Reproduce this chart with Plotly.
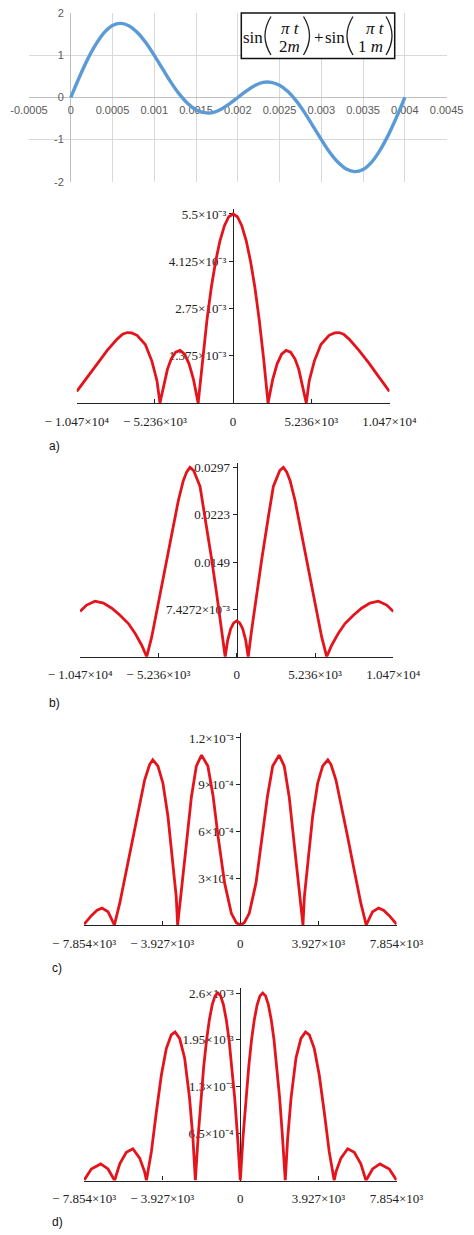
import plotly.graph_objects as go

W, H = 474, 1235

def px(p):
    return p / W

def py(p):
    return 1 - p / H

# ---------------- data ----------------
# top panel: sin(pi t / 2m) + sin(pi t / 1m)
sig_t = [0, 0.0001, 0.0002, 0.0003, 0.0004, 0.0005, 0.0006, 0.0007, 0.0008, 0.0009,
         0.0010, 0.0011, 0.0012, 0.0013, 0.0014, 0.0015, 0.0016, 0.0017, 0.0018, 0.0019,
         0.0020, 0.0021, 0.0022, 0.0023, 0.0024, 0.0025, 0.0026, 0.0027, 0.0028, 0.0029,
         0.0030, 0.0031, 0.0032, 0.0033, 0.0034, 0.0035, 0.0036, 0.0037, 0.0038, 0.0039, 0.0040]
sig_v = [0.0, 0.47, 0.90, 1.26, 1.54, 1.71, 1.76, 1.70, 1.54, 1.30,
         1.0, 0.68, 0.36, 0.08, -0.14, -0.29, -0.36, -0.36, -0.28, -0.15,
         0.0, 0.15, 0.28, 0.36, 0.36, 0.29, 0.14, -0.08, -0.36, -0.68,
         -1.0, -1.30, -1.54, -1.70, -1.76, -1.71, -1.54, -1.26, -0.90, -0.47, 0.0]
top_xticks = [-0.0005, 0, 0.0005, 0.001, 0.0015, 0.002, 0.0025, 0.003, 0.0035, 0.004, 0.0045]
top_xtext = ["-0.0005", "0", "0.0005", "0.001", "0.0015", "0.002", "0.0025", "0.003", "0.0035", "0.004", "0.0045"]
top_yticks = [-2, -1, 0, 1, 2]
top_ytext = ["-2", "-1", "0", "1", "2"]

# panel a (magnitude in units of 1e-3)
a_w = [-10470, -9760, -9100, -8430, -7770, -7400, -7100, -6800, -6430, -5880, -5440, -5100, -4900,
       -4650, -4400, -4150, -3850, -3550, -3250, -2950, -2650, -2340,
       -2050, -1750, -1460, -1170, -880, -580, -290, 0,
       290, 580, 880, 1170, 1460, 1750, 2050,
       2340, 2650, 2950, 3250, 3550, 3850, 4150, 4400, 4650,
       4900, 5100, 5440, 5880, 6430, 6800, 7100, 7400, 7770, 8430, 9100, 9760, 10470]
a_m = [0.34, 0.76, 1.16, 1.53, 1.86, 2.00, 2.05, 2.04, 1.97, 1.70, 1.22, 0.65, 0.0,
       0.50, 0.98, 1.28, 1.48, 1.53, 1.42, 1.14, 0.68, 0.0,
       1.27, 2.42, 3.36, 4.12, 4.72, 5.16, 5.42, 5.5,
       5.42, 5.16, 4.72, 4.12, 3.36, 2.42, 1.27,
       0.0, 0.68, 1.14, 1.42, 1.53, 1.48, 1.28, 0.98, 0.50,
       0.0, 0.65, 1.22, 1.70, 1.97, 2.04, 2.05, 2.00, 1.86, 1.53, 1.16, 0.76, 0.34]
a_xticks = [-10470, -5236, 0, 5236, 10470]
a_xtext = ["\u2212 1.047\u00d710\u2074", "\u2212 5.236\u00d710\u00b3", "0",
           "5.236\u00d710\u00b3", "1.047\u00d710\u2074"]
a_yticks = [1.375e-3, 2.75e-3, 4.125e-3, 5.5e-3]
a_ytext = ["1.375\u00d710\u207b\u00b3", "2.75\u00d710\u207b\u00b3",
           "4.125\u00d710\u207b\u00b3", "5.5\u00d710\u207b\u00b3"]

# panel b (units of 1e-3)
b_w = [-10470, -10030, -9470, -8910, -8350, -7800, -7240, -6800, -6350, -6016,
       -5680, -5240, -4790, -4340, -3900, -3570, -3340, -3120, -2880, -2450, -2120, -1670, -1340, -1000, -770,
       -600, -400, -200, 0, 200, 400, 600,
       770, 1000, 1340, 1670, 2120, 2450, 2880, 3120, 3340, 3570, 3900, 4340, 4790, 5240, 5680,
       6016, 6350, 6800, 7240, 7800, 8350, 8910, 9470, 10030, 10470]
b_m = [7.1, 8.1, 8.7, 8.4, 7.6, 6.5, 5.2, 3.7, 1.8, 0.0,
       3.1, 8.4, 13.6, 19.3, 24.5, 27.6, 29.0, 29.7, 29.2, 26.7, 22.0, 15.2, 9.9, 4.2, 0.0,
       2.6, 4.4, 5.3, 5.6, 5.3, 4.4, 2.6,
       0.0, 4.2, 9.9, 15.2, 22.0, 26.7, 29.2, 29.7, 29.0, 27.6, 24.5, 19.3, 13.6, 8.4, 3.1,
       0.0, 1.8, 3.7, 5.2, 6.5, 7.6, 8.4, 8.7, 8.1, 7.1]
b_xticks = a_xticks
b_xtext = a_xtext
b_yticks = [0.0074272, 0.0148544, 0.0222816, 0.0297088]
b_ytext = ["7.4272\u00d710\u207b\u00b3", "0.0149", "0.0223", "0.0297"]

# panel c (units of 1e-4)
c_w = [-7854, -7490, -7200, -6950, -6650, -6330,
       -6060, -5730, -5390, -5060, -4810, -4560, -4400, -4140, -3890, -3640, -3420, -3220, -3150,
       -2970, -2710, -2460, -2210, -1950, -1630, -1370, -1120, -790, -450, -200, 0,
       200, 450, 790, 1120, 1370, 1630, 1950, 2210, 2460, 2710, 2970,
       3150, 3220, 3420, 3640, 3890, 4140, 4400, 4560, 4810, 5060, 5390, 5730, 6060,
       6330, 6650, 6950, 7200, 7490, 7854]
c_m = [0.05, 0.6, 0.95, 1.08, 0.85, 0.0,
       1.4, 3.5, 5.7, 7.8, 9.3, 10.3, 10.6, 10.2, 9.1, 7.0, 4.4, 1.8, 0.0,
       2.0, 5.2, 8.2, 10.2, 10.9, 10.2, 8.3, 5.7, 2.7, 0.75, 0.15, 0.0,
       0.15, 0.75, 2.7, 5.7, 8.3, 10.2, 10.9, 10.2, 8.2, 5.2, 2.0,
       0.0, 1.8, 4.4, 7.0, 9.1, 10.2, 10.6, 10.3, 9.3, 7.8, 5.7, 3.5, 1.4,
       0.0, 0.85, 1.08, 0.95, 0.6, 0.05]
c_xticks = [-7854, -3927, 0, 3927, 7854]
c_xtext = ["\u2212 7.854\u00d710\u00b3", "\u2212 3.927\u00d710\u00b3", "0",
           "3.927\u00d710\u00b3", "7.854\u00d710\u00b3"]
c_yticks = [3e-4, 6e-4, 9e-4, 1.2e-3]
c_ytext = ["3\u00d710\u207b\u2074", "6\u00d710\u207b\u2074",
           "9\u00d710\u207b\u2074", "1.2\u00d710\u207b\u00b3"]

# panel d (units of 1e-4)
d_w = [-7854, -7490, -7020, -6650, -6320,
       -6060, -5730, -5400, -5060, -4810, -4720,
       -4470, -4220, -3970, -3720, -3470, -3280, -3050, -2800, -2550, -2380, -2260,
       -2120, -1980, -1840, -1695, -1555, -1410, -1270, -1130, -990, -850, -705, -565, -425, -280, -140, 0,
       140, 280, 425, 565, 705, 850, 990, 1130, 1270, 1410, 1555, 1695, 1840, 1980, 2120,
       2260, 2380, 2550, 2800, 3050, 3280, 3470, 3720, 3970, 4220, 4470,
       4720, 4810, 5060, 5400, 5730, 6060,
       6320, 6650, 7020, 7490, 7854]
d_m = [0.05, 1.6, 2.3, 1.6, 0.0,
       2.3, 3.9, 4.4, 3.1, 1.2, 0.0,
       4.0, 9.5, 14.6, 18.3, 20.2, 20.6, 19.7, 17.0, 11.4, 5.8, 0.0,
       6.1, 11.4, 15.8, 19.5, 22.3, 24.4, 25.6, 26.0, 25.6, 24.4, 22.3, 19.5, 15.8, 11.4, 6.1, 0.0,
       6.1, 11.4, 15.8, 19.5, 22.3, 24.4, 25.6, 26.0, 25.6, 24.4, 22.3, 19.5, 15.8, 11.4, 6.1,
       0.0, 5.8, 11.4, 17.0, 19.7, 20.6, 20.2, 18.3, 14.6, 9.5, 4.0,
       0.0, 1.2, 3.1, 4.4, 3.9, 2.3,
       0.0, 1.6, 2.3, 1.6, 0.05]
d_xticks = c_xticks
d_xtext = c_xtext
d_yticks = [6.5e-4, 1.3e-3, 1.95e-3, 2.6e-3]
d_ytext = ["6.5\u00d710\u207b\u2074", "1.3\u00d710\u207b\u00b3",
           "1.95\u00d710\u207b\u00b3", "2.6\u00d710\u207b\u00b3"]

# ---------------- figure ----------------
RED = "#e3141c"
BLUE = "#5b9bd5"
SERIF = "Liberation Serif, Times New Roman, serif"
SANS = "Liberation Sans, Arial, sans-serif"

fig = go.Figure()
fig.add_trace(go.Scatter(x=sig_t, y=sig_v, mode="lines", line=dict(color=BLUE, width=3.4, shape="spline"),
                         xaxis="x", yaxis="y", showlegend=False, hoverinfo="skip"))
fig.add_trace(go.Scatter(x=a_w, y=[v * 1e-3 for v in a_m], mode="lines", line=dict(color=RED, width=2.8),
                         xaxis="x2", yaxis="y2", showlegend=False))
fig.add_trace(go.Scatter(x=b_w, y=[v * 1e-3 for v in b_m], mode="lines", line=dict(color=RED, width=2.8),
                         xaxis="x3", yaxis="y3", showlegend=False))
fig.add_trace(go.Scatter(x=c_w, y=[v * 1e-4 for v in c_m], mode="lines", line=dict(color=RED, width=2.8),
                         xaxis="x4", yaxis="y4", showlegend=False))
fig.add_trace(go.Scatter(x=d_w, y=[v * 1e-4 for v in d_m], mode="lines", line=dict(color=RED, width=2.8),
                         xaxis="x5", yaxis="y5", showlegend=False))

layout = dict(template="none", width=W, height=H, margin=dict(l=0, r=0, t=0, b=0, pad=0, autoexpand=False),
              autosize=False, paper_bgcolor="white", plot_bgcolor="white", showlegend=False)

# top (Excel-like) panel
tx0, tx1 = 29.0, 446.6
ty_top, ty_bot = 13.3, 181.7
top_zero_py = (ty_top + ty_bot) / 2
layout["xaxis"] = dict(domain=[px(tx0), px(tx1)], range=[-0.0005, 0.0045], anchor="free",
                       position=py(top_zero_py), tickmode="array", tickvals=top_xticks, ticktext=top_xtext,
                       showgrid=True, gridcolor="#d9d9d9", gridwidth=1, zeroline=True,
                       zerolinecolor="#bfbfbf", zerolinewidth=1.3, showline=False, ticks="",
                       tickfont=dict(family=SANS, size=11, color="#595959"), ticklabelstandoff=4,
                       layer="below traces", fixedrange=True, automargin=False)
zero_x_px = tx0 + (0 - (-0.0005)) / 0.005 * (tx1 - tx0)
layout["yaxis"] = dict(domain=[py(ty_bot), py(ty_top)], range=[-2, 2], anchor="free",
                       position=px(zero_x_px), tickmode="array", tickvals=top_yticks, ticktext=top_ytext,
                       showgrid=True, gridcolor="#d9d9d9", gridwidth=1, zeroline=True,
                       zerolinecolor="#bfbfbf", zerolinewidth=1.3, showline=False, ticks="",
                       tickfont=dict(family=SANS, size=11, color="#595959"), ticklabelstandoff=7,
                       layer="below traces", fixedrange=True, automargin=False)

# Mathcad-like panels
panels = [
    (2, 76.7, 389.5, 10470, 403.0, 214.0, 5.5e-3, a_xticks, a_xtext, a_yticks, a_ytext),
    (3, 80.0, 393.4, 10470, 656.7, 467.3, 0.0297088, b_xticks, b_xtext, b_yticks, b_ytext),
    (4, 84.0, 396.6, 7854, 925.0, 738.0, 1.2e-3, c_xticks, c_xtext, c_yticks, c_ytext),
    (5, 84.0, 396.6, 7854, 1180.5, 993.0, 2.6e-3, d_xticks, d_xtext, d_yticks, d_ytext),
]
for n, x0, x1, half, zp, tp, tv, xt, xtx, yt, ytx in panels:
    extra = 1.025
    top_px = zp - (zp - tp) * extra
    layout[f"xaxis{n}"] = dict(domain=[px(x0), px(x1)], range=[-half * 1.0005, half * 1.0005], anchor=f"y{n}",
                               tickmode="array", tickvals=xt, ticktext=xtx, showgrid=False, zeroline=False,
                               showline=True, linecolor="#222", linewidth=1.3, ticks="inside", ticklen=4,
                               tickcolor="#222", tickwidth=1.3,
                               tickfont=dict(family=SERIF, size=13, color="#222"), ticklabelstandoff=6,
                               layer="below traces", fixedrange=True, automargin=False)
    layout[f"yaxis{n}"] = dict(domain=[py(zp), py(top_px)], range=[0, tv * extra], anchor="free",
                               position=px((x0 + x1) / 2), tickmode="array", tickvals=yt, ticktext=ytx,
                               showgrid=False, zeroline=False, showline=True, linecolor="#222", linewidth=1.3,
                               ticks="outside", ticklen=4, tickcolor="#222", tickwidth=1.3,
                               tickfont=dict(family=SERIF, size=13, color="#222"), ticklabelstandoff=0,
                               layer="below traces", fixedrange=True, automargin=False)

# formula box (top panel)
shapes = [dict(type="rect", xref="paper", yref="paper", x0=px(241.3), x1=px(394.7), y0=py(58.5), y1=py(13.0),
               line=dict(color="#111", width=1.5), fillcolor="white", layer="above")]

def paren(xl, xr, top, bot, left=True):
    mid = (top + bot) / 2
    if left:
        s, c = xr, xl - (xr - xl)
    else:
        s, c = xl, xr + (xr - xl)
    return dict(type="path", xref="paper", yref="paper", layer="above",
                path=f"M {px(s)},{py(top)} Q {px(c)},{py(mid)} {px(s)},{py(bot)}",
                line=dict(color="#222", width=1.3))

shapes += [paren(265.0, 271.0, 16.5, 55.0, True), paren(303.5, 309.5, 16.5, 55.0, False),
           paren(347.0, 353.0, 16.5, 55.0, True), paren(386.0, 392.0, 16.5, 55.0, False)]
layout["shapes"] = shapes

ann = []
def txt(s, x, y, size=17, xanchor="center"):
    ann.append(dict(text=s, x=px(x), y=py(y), xref="paper", yref="paper", showarrow=False,
                    xanchor=xanchor, yanchor="middle", font=dict(family=SERIF, size=size, color="#111")))

txt("sin", 253.5, 37.5)
txt("<i>\u03c0 t</i>", 290.5, 28.5)
txt("2<i>m</i>", 289.5, 46.5)
txt("+", 319.0, 37.5)
txt("sin", 335.0, 37.5)
txt("<i>\u03c0 t</i>", 375.5, 28.5)
txt("1<i> m</i>", 370.5, 46.5)

for lab, yy in [("a)", 446), ("b)", 703), ("c)", 968), ("d)", 1222)]:
    ann.append(dict(text=lab, x=px(46.5 if lab in ("a)", "b)") else 49.5), y=py(yy), xref="paper", yref="paper",
                    showarrow=False, xanchor="left", yanchor="middle",
                    font=dict(family=SANS, size=12, color="#111")))
layout["annotations"] = ann

fig.update_layout(**layout)
fig.write_html("out.html", config={"displayModeBar": False},
               post_script="document.body.style.margin='0';document.body.style.overflow='hidden';")
